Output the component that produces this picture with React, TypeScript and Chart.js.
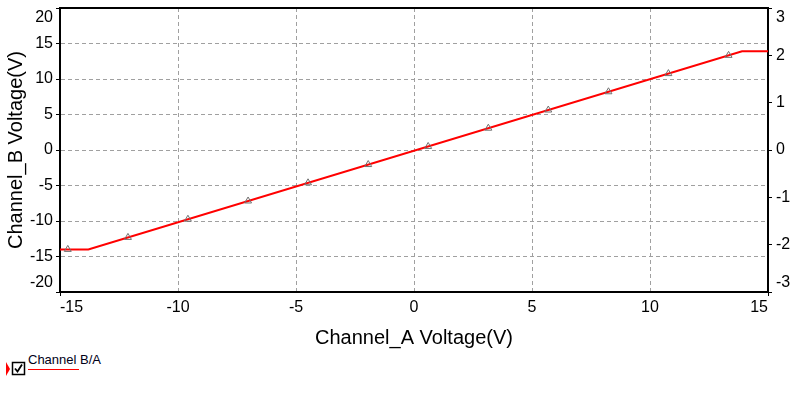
import React, { useEffect, useRef } from "react";
import { Chart, registerables } from "chart.js";
Chart.register(...registerables);

const lineX = [-15, -13.8, 13.9, 15];
const lineY = [-14, -14, 13.9, 13.9];
const markerX = [-14.67, -12.12, -9.58, -7.03, -4.49, -1.94, 0.6, 3.15, 5.69, 8.24, 10.78, 13.33];
const markerY = [-14, -12.31, -9.75, -7.18, -4.62, -2.05, 0.5, 3.07, 5.63, 8.2, 10.76, 13.33];
const xTicks = [-15, -10, -5, 0, 5, 10, 15];
const yLeftTicks = [-20, -15, -10, -5, 0, 5, 10, 15, 20];
const yRightTicks = [-3, -2, -1, 0, 1, 2, 3];

const FONT = '"Liberation Sans", Arial, sans-serif';

export default function App() {
  const ref = useRef<HTMLCanvasElement>(null);

  useEffect(() => {
    if (!ref.current) return;
    const labelPlugin = {
      id: "yLabels",
      afterDraw(chart: any) {
        const ctx = chart.ctx;
        const area = chart.chartArea;
        ctx.save();
        ctx.strokeStyle = "#000";
        ctx.lineWidth = 2;
        ctx.beginPath();
        ctx.moveTo(area.left - 1, area.top);
        ctx.lineTo(area.right + 1, area.top);
        ctx.stroke();
        ctx.font = `16px ${FONT}`;
        ctx.fillStyle = "#000";
        ctx.textBaseline = "middle";
        const draw = (scale: any, vals: number[], x: number, align: string) => {
          ctx.textAlign = align;
          vals.forEach((v) => {
            let y = scale.getPixelForValue(v);
            y = Math.min(Math.max(y, area.top + 10), area.bottom - 9);
            ctx.fillText(String(v), x, y);
          });
        };
        draw(chart.scales.y, yLeftTicks, area.left - 7, "right");
        draw(chart.scales.y2, yRightTicks, area.right + 8, "left");
        ctx.restore();
      },
    };

    const chart = new Chart(ref.current, {
      type: "scatter",
      data: {
        datasets: [
          {
            label: "markers",
            data: markerX.map((x, i) => ({ x, y: markerY[i] })),
            showLine: false,
            pointStyle: "triangle",
            pointRadius: 4,
            borderColor: "#707070",
            borderWidth: 1,
            backgroundColor: "rgba(255,255,255,0)",
            order: 0,
          },
          {
            label: "Channel B/A",
            data: lineX.map((x, i) => ({ x, y: lineY[i] })),
            showLine: true,
            borderColor: "#ff0000",
            borderWidth: 2,
            pointRadius: 0,
            order: 1,
          },
        ],
      },
      options: {
        animation: false,
        responsive: false,
        maintainAspectRatio: false,
        layout: { padding: { top: 8, left: 0, right: 0, bottom: 0 } },
        plugins: { legend: { display: false }, tooltip: { enabled: false } },
        scales: {
          x: {
            type: "linear",
            min: -15,
            max: 15,
            afterBuildTicks: (s: any) => {
              s.ticks = xTicks.map((v) => ({ value: v }));
            },
            afterFit: (s: any) => {
              s.height = 58;
            },
            grid: {
              color: (c: any) => (Math.abs(c.tick?.value) === 15 ? "rgba(0,0,0,0)" : "#a0a0a0"),
              lineWidth: 1,
              tickLength: 4,
              tickColor: (c: any) => (Math.abs(c.tick?.value) === 15 ? "#000" : "rgba(0,0,0,0)"),
            },
            border: { color: "#000", width: 2, dash: [4, 3] },
            ticks: {
              font: { family: FONT, size: 16 },
              color: "#000",
              align: "inner",
              padding: 2,
              maxRotation: 0,
            },
            title: {
              display: true,
              text: "Channel_A Voltage(V)",
              font: { family: FONT, size: 20 },
              color: "#000",
              padding: { top: 4, bottom: 0 },
            },
          },
          y: {
            type: "linear",
            position: "left",
            min: -20,
            max: 20,
            afterBuildTicks: (s: any) => {
              s.ticks = yLeftTicks.map((v) => ({ value: v }));
            },
            afterFit: (s: any) => {
              s.width = 60;
            },
            grid: {
              color: (c: any) => (Math.abs(c.tick?.value) === 20 ? "rgba(0,0,0,0)" : "#a0a0a0"),
              lineWidth: 1,
              tickLength: 4,
              tickColor: "#000",
            },
            border: { color: "#000", width: 2, dash: [4, 3] },
            ticks: { display: false },
            title: {
              display: true,
              text: "Channel_B Voltage(V)",
              font: { family: FONT, size: 20 },
              color: "#000",
              padding: { top: 4, bottom: 0 },
            },
          },
          y2: {
            type: "linear",
            position: "right",
            min: -3,
            max: 3,
            afterBuildTicks: (s: any) => {
              s.ticks = yRightTicks.map((v) => ({ value: v }));
            },
            afterFit: (s: any) => {
              s.width = 27;
            },
            grid: { drawOnChartArea: false, tickLength: 4, tickColor: "#000" },
            border: { color: "#000", width: 2 },
            ticks: { display: false },
          },
        },
      },
      plugins: [labelPlugin],
    } as any);
    return () => chart.destroy();
  }, []);

  return (
    <div style={{ position: "absolute", left: 0, top: 0, width: 795, height: 393, background: "#fff", fontFamily: FONT }}>
      <canvas ref={ref} width={795} height={350} style={{ display: "block", width: 795, height: 350 }} />
      <div
        style={{
          position: "absolute",
          left: 6,
          top: 362,
          width: 0,
          height: 0,
          borderTop: "7px solid transparent",
          borderBottom: "7px solid transparent",
          borderLeft: "4px solid #ff0000",
        }}
      />
      <svg style={{ position: "absolute", left: 11, top: 361 }} width={15} height={15}>
        <rect x={1.5} y={1.5} width={12} height={12} fill="#fff" stroke="#000" strokeWidth={1.5} />
        <path d="M4 7.5 L6.5 10.5 L11 3.5" fill="none" stroke="#000" strokeWidth={1.8} />
      </svg>
      <div style={{ position: "absolute", left: 28, top: 352, fontSize: 13, color: "#000018", lineHeight: "15px", whiteSpace: "nowrap" }}>
        Channel B/A
      </div>
      <div style={{ position: "absolute", left: 28, top: 369, width: 51, height: 1, background: "#ff0000" }} />
    </div>
  );
}
